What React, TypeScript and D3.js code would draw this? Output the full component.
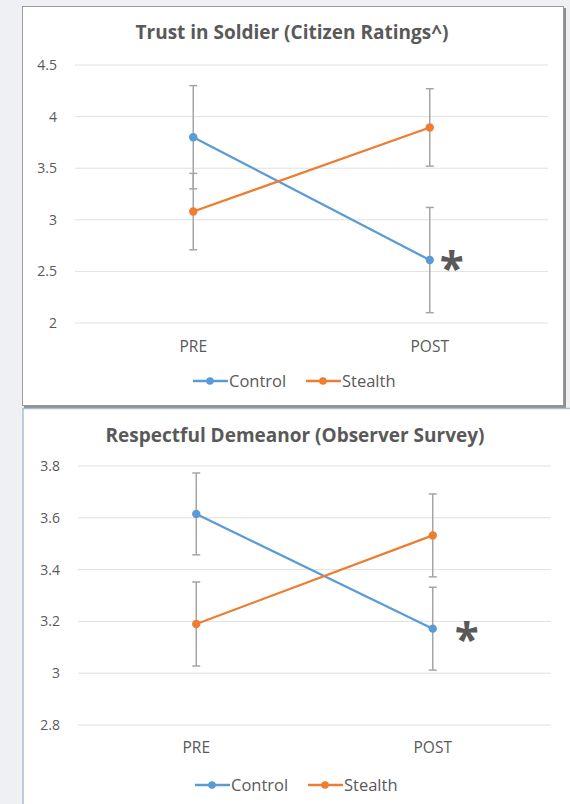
import React from "react";
import * as d3 from "d3";

const categories = ["PRE", "POST"];
const seriesNames = ["Control", "Stealth"];
const seriesColors = ["#5B9BD5", "#ED7D31"];

const trustTitle = "Trust in Soldier (Citizen Ratings^)";
const trustTicks = [2, 2.5, 3, 3.5, 4, 4.5];
const trustControl = [3.8, 2.61];
const trustControlErr = [0.5, 0.51];
const trustStealth = [3.08, 3.895];
const trustStealthErr = [0.37, 0.375];

const respTitle = "Respectful Demeanor (Observer Survey)";
const respTicks = [2.8, 3, 3.2, 3.4, 3.6, 3.8];
const respControl = [3.615, 3.172];
const respControlErr = [0.158, 0.16];
const respStealth = [3.19, 3.532];
const respStealthErr = [0.162, 0.16];

const TEXT = "#595959";
const FONT = "'Open Sans', 'DejaVu Sans', sans-serif";

type PanelProps = {
  title: string;
  ticks: number[];
  values: number[][];
  errors: number[][];
  x0: number; x1: number; yTop: number; yBot: number;
  titleX: number; titleY: number; catY: number; legendY: number; legendX: number;
  starIndex: number; starDx: number; starDy: number;
  fmt: (v: number) => string;
};

function Panel(p: PanelProps) {
  const x = d3.scaleBand<string>().domain(categories).range([p.x0, p.x1]);
  const y = d3.scaleLinear().domain([p.ticks[0], p.ticks[p.ticks.length - 1]]).range([p.yBot, p.yTop]);
  const cx = (c: string) => (x(c) as number) + x.bandwidth() / 2;
  const line = d3.line<number>().x((_, i) => cx(categories[i])).y((v) => y(v));
  return (
    <g>
      <text x={p.titleX} y={p.titleY} dy="0.35em" textAnchor="middle" fontFamily={FONT} fontWeight="bold" fontSize={19} fill={TEXT}>{p.title}</text>
      {p.ticks.map((t) => (
        <g key={t}>
          <line x1={p.x0} x2={p.x1} y1={y(t)} y2={y(t)} stroke="#E0E0E0" strokeWidth={1} />
          <text x={p.x0 - 18} y={y(t)} dy="0.35em" textAnchor="end" fontFamily={FONT} fontSize={14} fill={TEXT}>{p.fmt(t)}</text>
        </g>
      ))}
      {categories.map((c) => (
        <text key={c} x={cx(c)} y={p.catY} dy="0.35em" textAnchor="middle" fontFamily={FONT} fontSize={15.5} fill={TEXT}>{c}</text>
      ))}
      {p.values.map((vals, si) => (
        <g key={si}>
          {vals.map((v, i) => {
            const e = p.errors[si][i];
            const xx = cx(categories[i]);
            return (
              <g key={i} stroke="#A5A5A5" strokeWidth={1.5}>
                <line x1={xx} x2={xx} y1={y(v + e)} y2={y(v - e)} />
                <line x1={xx - 4} x2={xx + 4} y1={y(v + e)} y2={y(v + e)} />
                <line x1={xx - 4} x2={xx + 4} y1={y(v - e)} y2={y(v - e)} />
              </g>
            );
          })}
        </g>
      ))}
      {p.values.map((vals, si) => (
        <g key={"s" + si}>
          <path d={line(vals) as string} fill="none" stroke={seriesColors[si]} strokeWidth={2.25} />
          {vals.map((v, i) => (
            <circle key={i} cx={cx(categories[i])} cy={y(v)} r={4.2} fill={seriesColors[si]} />
          ))}
        </g>
      ))}
      <text x={cx(categories[1]) + p.starDx} y={y(p.values[0][p.starIndex]) + p.starDy} textAnchor="middle" fontFamily={FONT} fontWeight="bold" fontSize={44} fill={TEXT}>*</text>
      {seriesNames.map((n, i) => {
        const lx = p.legendX + i * 113;
        return (
          <g key={n}>
            <line x1={lx} x2={lx + 35} y1={p.legendY} y2={p.legendY} stroke={seriesColors[i]} strokeWidth={2.5} />
            <circle cx={lx + 17} cy={p.legendY} r={3.8} fill={seriesColors[i]} />
            <text x={lx + 36} y={p.legendY} dy="0.35em" fontFamily={FONT} fontSize={16.5} fill={TEXT}>{n}</text>
          </g>
        );
      })}
    </g>
  );
}

export default function App() {
  return (
    <div style={{ position: "absolute", left: 0, top: 0 }}>
      <svg width={570} height={804} style={{ display: "block" }}>
        <rect x={0} y={0} width={570} height={804} fill="#EEF0F3" />
        {/* top panel */}
        <rect x={24} y={8} width={542} height={400} fill="#8E8E8E" />
        <rect x={22.5} y={6.5} width={541} height={399} fill="#FFFFFF" stroke="#9A9A9A" strokeWidth={1} />
        {/* bottom panel */}
        <rect x={23} y={408.5} width={560} height={410} fill="#FFFFFF" stroke="#A9BED3" strokeWidth={1.5} />
        <Panel
          title={trustTitle}
          ticks={trustTicks}
          values={[trustControl, trustStealth]}
          errors={[trustControlErr, trustStealthErr]}
          x0={75} x1={548} yTop={65} yBot={323}
          titleX={292} titleY={32} catY={347} legendY={381} legendX={193}
          starIndex={1} starDx={22} starDy={24}
          fmt={(v) => d3.format("")(v)}
        />
        <Panel
          title={respTitle}
          ticks={respTicks}
          values={[respControl, respStealth]}
          errors={[respControlErr, respStealthErr]}
          x0={78} x1={551} yTop={466} yBot={725}
          titleX={295} titleY={435} catY={748} legendY={785} legendX={195}
          starIndex={1} starDx={34} starDy={26}
          fmt={(v) => d3.format(".1f")(v) === "3.0" ? "3" : d3.format(".1f")(v)}
        />
      </svg>
    </div>
  );
}
